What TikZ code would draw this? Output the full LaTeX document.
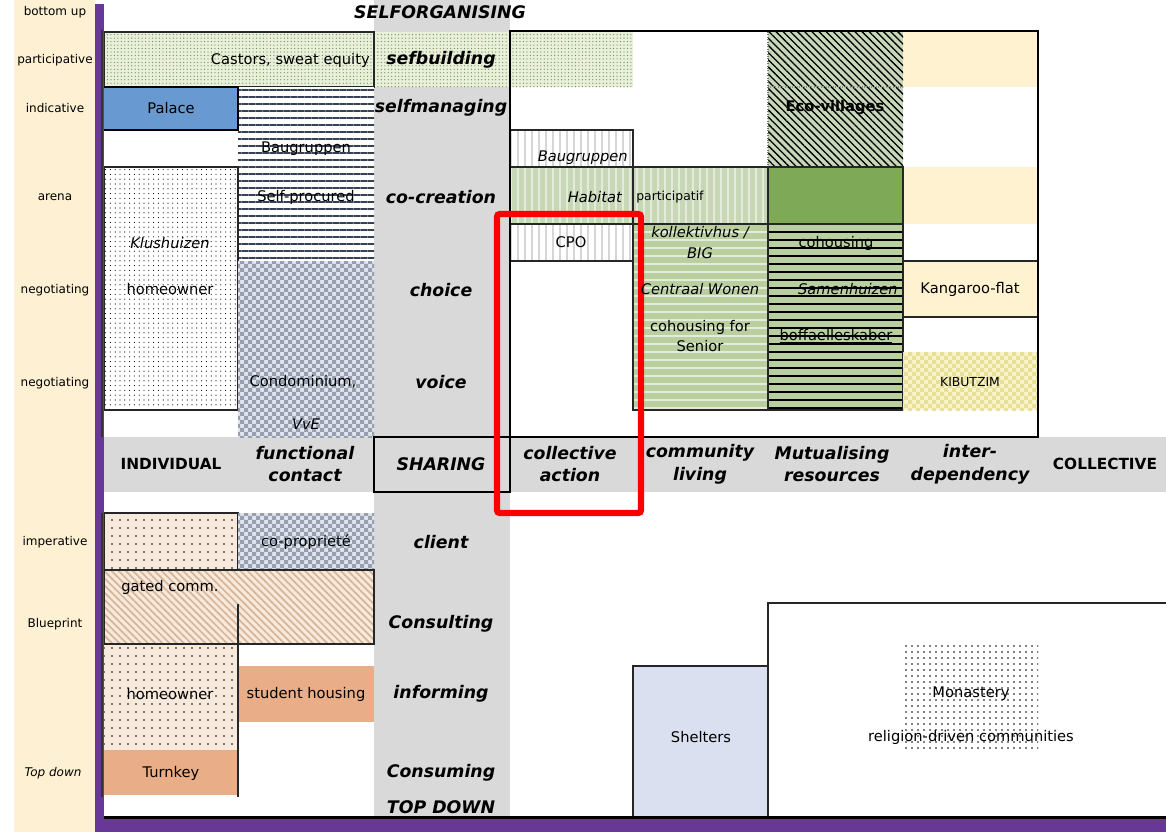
\documentclass[tikz,border=0pt]{standalone}
\usepackage{fontspec}
\setmainfont{DejaVu Sans}
\usetikzlibrary{patterns,patterns.meta}

% coarse two-colour checkerboard (3pt squares)
\pgfdeclarepatternformonly{bigchecker}{\pgfqpoint{-.1pt}{-.1pt}}{\pgfqpoint{6.1pt}{6.1pt}}{\pgfqpoint{6pt}{6pt}}{%
  \pgfpathrectangle{\pgfqpoint{0pt}{0pt}}{\pgfqpoint{3pt}{3pt}}%
  \pgfpathrectangle{\pgfqpoint{3pt}{3pt}}{\pgfqpoint{3pt}{3pt}}%
  \pgfusepath{fill}}

\definecolor{axisbeige}{RGB}{253,240,211}
\definecolor{cellbeige}{RGB}{255,242,208}
\definecolor{barpurple}{RGB}{104,56,152}
\definecolor{bandgrey}{RGB}{217,217,217}
\definecolor{palaceblue}{RGB}{104,153,208}
\definecolor{darkgreen}{RGB}{126,169,86}
\definecolor{sage}{RGB}{200,216,182}
\definecolor{sagelight}{RGB}{228,235,218}
\definecolor{stripegreen}{RGB}{185,207,160}
\definecolor{salmon}{RGB}{233,174,135}
\definecolor{shelterblue}{RGB}{218,224,239}
\definecolor{peach}{RGB}{247,233,220}
\definecolor{hatchtan}{RGB}{214,182,152}
\definecolor{navy}{RGB}{55,65,85}
\definecolor{checklight}{RGB}{226,229,236}
\definecolor{checkgrey}{RGB}{150,160,178}
\definecolor{kibyellow}{RGB}{250,245,205}
\definecolor{kibcheck}{RGB}{232,224,150}
\definecolor{dotgreen}{RGB}{232,240,218}
\definecolor{dotgreendark}{RGB}{115,140,85}
\definecolor{ecogreen}{RGB}{200,215,185}
\definecolor{linegrey}{RGB}{214,214,214}
\definecolor{alertred}{RGB}{250,0,0}

\tikzset{
  axislabel/.style={font=\fontsize{9}{10}\selectfont, inner sep=0pt},
  collabel/.style={font=\fontsize{13}{17}\selectfont\bfseries\itshape, inner sep=0pt, align=center},
  headlabel/.style={font=\fontsize{13}{17}\selectfont\bfseries\itshape, inner sep=0pt, align=center},
  capslabel/.style={font=\fontsize{11.5}{13}\selectfont\bfseries, inner sep=0pt},
  boxtext/.style={font=\fontsize{11}{13}\selectfont, inner sep=0pt},
  smalltext/.style={font=\fontsize{9.3}{11}\selectfont, inner sep=0pt},
  cellborder/.style={draw=black!85, line width=0.9pt},
  castorfill/.style={preaction={fill=dotgreen}, pattern={Dots[distance=2.6pt,radius=0.48pt]}, pattern color=dotgreendark},
  navylines/.style={preaction={fill=white}, pattern={Lines[angle=0,distance=5.25pt,line width=1.3pt]}, pattern color=navy},
  blackdots/.style={preaction={fill=white}, pattern={Dots[distance=3.6pt,radius=0.42pt]}, pattern color=black},
  greychecks/.style={preaction={fill=checklight}, pattern=bigchecker, pattern color=checkgrey},
  palelines/.style={preaction={fill=white}, pattern={Lines[angle=90,distance=5.25pt,line width=1.3pt]}, pattern color=linegrey},
  habitatfill/.style={preaction={fill=sage}, pattern={Lines[angle=90,distance=5.25pt,line width=1.3pt]}, pattern color=sagelight},
  kollfill/.style={preaction={fill=stripegreen}, pattern={Lines[angle=0,distance=6pt,line width=1.2pt]}, pattern color=sagelight},
  ecofill/.style={preaction={fill=ecogreen}, pattern={Lines[angle=-45,distance=3.8pt,line width=1pt]}, pattern color=black},
  cohofill/.style={preaction={fill=stripegreen}, pattern={Lines[angle=0,distance=6pt,line width=1.1pt]}, pattern color=black},
  kibfill/.style={preaction={fill=kibyellow}, pattern=bigchecker, pattern color=kibcheck},
  peachdots/.style={preaction={fill=peach}, pattern={Dots[distance=6pt,radius=0.7pt]}, pattern color=black},
  gatedfill/.style={preaction={fill=peach}, pattern={Lines[angle=-45,distance=3.8pt,line width=1.3pt]}, pattern color=hatchtan},
  monkdots/.style={preaction={fill=white}, pattern={Dots[distance=4.5pt,radius=0.6pt]}, pattern color=black},
}

\begin{document}
\begin{tikzpicture}[x=0.75pt,y=-0.75pt]
\useasboundingbox (0,0) rectangle (1166,832);
\fill[white] (0,0) rectangle (1166,832);

% ---------- frame: axis strip, sharing column, sharing band ----------
\fill[axisbeige] (14,0) rectangle (95,832);
\fill[bandgrey] (374,0) rectangle (510,817);
\fill[bandgrey] (104,437) rectangle (1166,492);

% ---------- upper half, individual side ----------
\path[castorfill] (104,32) rectangle (633,87);
\draw[cellborder] (104,32) rectangle (374,87);
\path[navylines] (238,87) rectangle (374,261);
\path[blackdots, cellborder] (104,167) rectangle (238,410);
\path[greychecks] (238,261) rectangle (374,437);
\path[fill=palaceblue, draw=black, line width=1.8pt] (103,87) rectangle (238,130);

% ---------- upper half, collective side ----------
\fill[cellbeige] (903,32) rectangle (1038,87);
\fill[cellbeige] (903,167) rectangle (1038,224);
\path[ecofill] (768,32) rectangle (903,167);
\draw[black!45, densely dotted, line width=0.8pt] (768,87) -- (903,87);
\draw[black!55, densely dotted, line width=0.8pt] (768,32) -- (768,167);
\path[palelines, cellborder] (510,130) rectangle (633,167);
\path[habitatfill, cellborder] (510,167) rectangle (768,224);
\draw[cellborder] (633,130) -- (633,224);
\path[palelines, cellborder] (510,224) rectangle (633,261);
\path[kollfill, cellborder] (633,224) rectangle (768,410);
\path[fill=darkgreen, cellborder] (768,167) rectangle (903,224);
\path[cohofill, cellborder] (768,224) rectangle (903,410);
\path[fill=cellbeige, cellborder] (903,261) rectangle (1038,317);
\path[kibfill] (903,352) rectangle (1038,410);
\draw[black, line width=1.6pt] (510,31) rectangle (1038,437);

% ---------- sharing box ----------
\draw[black, line width=0.9pt] (374,437) rectangle (510,492);

% ---------- lower half ----------
\path[peachdots, cellborder] (104,513) rectangle (238,570);
\path[greychecks] (238,513) rectangle (374,570);
\path[peachdots] (104,644) rectangle (238,750);
\fill[salmon] (238,666) rectangle (374,722);
\fill[salmon] (104,750) rectangle (238,795);
\path[gatedfill, cellborder] (104,570) rectangle (374,644);
\draw[cellborder] (238,604) -- (238,797);
\path[fill=white, cellborder] (768,603) -- (1170,603) -- (1170,817) -- (768,817) -- cycle;
\path[monkdots] (905,643) rectangle (1038,752);
\path[fill=shelterblue, cellborder] (633,666) rectangle (768,817);

% ---------- purple axes ----------
\fill[barpurple] (95,4) rectangle (104,832);
\fill[barpurple] (95,819) rectangle (1166,832);
\draw[black, line width=1.6pt] (104,817.5) -- (1166,817.5);
\draw[black!80, line width=1.4pt] (102,30) -- (102,437);
\draw[black!80, line width=1.4pt] (102,513) -- (102,797);

% ---------- highlight ----------
\draw[alertred, line width=4.6pt, rounded corners=2pt] (497,214) rectangle (641,513);

% ---------- axis labels ----------
\node[axislabel] (ax1) at (55,12) {bottom up};
\node[axislabel] (ax2) at (55,60) {participative};
\node[axislabel] (ax3) at (55,108) {indicative};
\node[axislabel] (ax4) at (55,197) {arena};
\node[axislabel] (ax5) at (55,290) {negotiating};
\node[axislabel] (ax6) at (55,383) {negotiating};
\node[axislabel] (ax7) at (55,542) {imperative};
\node[axislabel] (ax8) at (55,624) {Blueprint};
\node[axislabel, font=\fontsize{9}{10}\selectfont\itshape] (ax9) at (53,773) {Top down};

% ---------- sharing column labels ----------
\node[collabel] (top) at (440,12) {SELFORGANISING};
\node[collabel] (c1) at (441,60) {sefbuilding};
\node[collabel] (c2) at (441,108) {selfmanaging};
\node[collabel] (c3) at (441,197) {co-creation};
\node[collabel] (c4) at (441,290) {choice};
\node[collabel] (c5) at (441,382) {voice};
\node[collabel] (c6) at (441,542) {client};
\node[collabel] (c7) at (441,624) {Consulting};
\node[collabel] (c8) at (441,694) {informing};
\node[collabel] (c9) at (441,773) {Consuming};
\node[collabel] (bottom) at (441,807) {TOP DOWN};

% ---------- band headings ----------
\node[capslabel] (h1) at (171,464) {INDIVIDUAL};
\node[headlabel] (h2) at (305,464) {functional\\contact};
\node[headlabel] (h3) at (441,464) {SHARING};
\node[headlabel] (h4) at (570,464) {collective\\action};
\node[headlabel] (h5) at (700,464) {community\\living};
\node[headlabel] (h6) at (832,464) {Mutualising\\resources};
\node[headlabel] (h7) at (970,464) {inter-\\dependency};
\node[capslabel] (h8) at (1105,464) {COLLECTIVE};

% ---------- cell texts, upper half ----------
\node[boxtext, anchor=east] (castors) at (370,60) {Castors, sweat equity};
\node[boxtext] (palace) at (171,108) {Palace};
\node[boxtext] (baug1) at (306,149) {Baugruppen};
\node[boxtext] (selfproc) at (306,197) {Self-procured};
\node[boxtext, font=\fontsize{11}{13}\selectfont\itshape] (klus) at (170,243) {Klushuizen};
\node[boxtext] (owner1) at (170,289) {homeowner};
\node[boxtext] (condo) at (303,382) {Condominium,};
\node[boxtext, font=\fontsize{11}{13}\selectfont\itshape] (vve) at (306,424) {VvE};
\node[boxtext, font=\fontsize{11}{13}\selectfont\itshape, anchor=east] (baug2) at (628,158) {Baugruppen};
\node[boxtext, font=\fontsize{11}{13}\selectfont\itshape, anchor=east] (habitat) at (622,197) {Habitat};
\node[smalltext, anchor=west] (partic) at (636,197) {participatif};
\node[boxtext] (cpo) at (571,242) {CPO};
\node[boxtext, font=\fontsize{11}{13}\selectfont\itshape] (koll) at (700,233) {kollektivhus /};
\node[boxtext, font=\fontsize{11}{13}\selectfont\itshape] (big) at (700,253) {BIG};
\node[boxtext, font=\fontsize{11}{13}\selectfont\itshape] (centraal) at (700,289) {Centraal Wonen};
\node[boxtext] (cosen1) at (700,327) {cohousing for};
\node[boxtext] (cosen2) at (700,346) {Senior};
\node[boxtext, font=\fontsize{11}{13}\selectfont\bfseries] (eco) at (835,108) {Eco-villages};
\node[boxtext] (coho) at (836,243) {cohousing};
\node[boxtext, font=\fontsize{11}{13}\selectfont\itshape, anchor=east] (samen) at (898,289) {Samenhuizen};
\node[boxtext] (boff) at (836,336) {\underline{boffaelleskaber}};
\node[boxtext] (kang) at (970,289) {Kangaroo-flat};
\node[smalltext] (kib) at (970,382) {KIBUTZIM};

% ---------- cell texts, lower half ----------
\node[boxtext] (copro) at (306,542) {co-proprieté};
\node[boxtext, anchor=west] (gated) at (121,587) {gated comm.};
\node[boxtext] (owner2) at (170,694) {homeowner};
\node[boxtext] (student) at (306,694) {student housing};
\node[boxtext] (turnkey) at (171,773) {Turnkey};
\node[boxtext] (shelters) at (701,737) {Shelters};
\node[boxtext] (monastery) at (971,694) {Monastery};
\node[boxtext] (religion) at (971,737) {religion-driven communities};
\end{tikzpicture}
\end{document}
